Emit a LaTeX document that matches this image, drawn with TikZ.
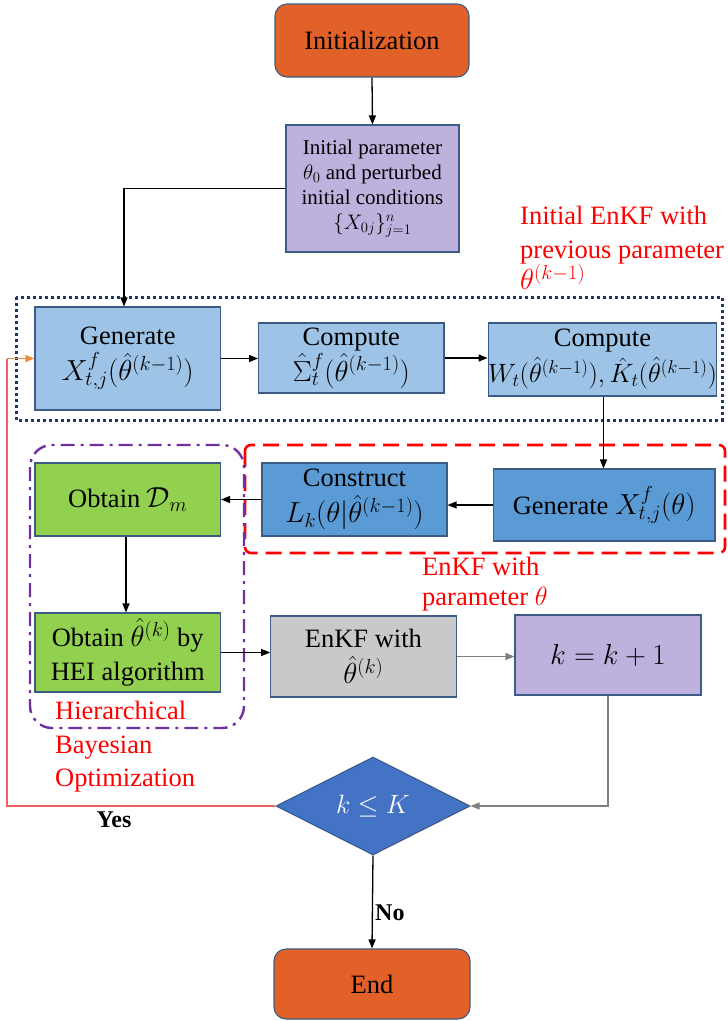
\RequirePackage{fix-cm}
\documentclass[tikz,border=0pt]{standalone}
\usepackage{fontspec}
\setmainfont{Liberation Serif}
\newfontfamily\tnr{Liberation Serif}
\usetikzlibrary{arrows.meta,shapes.geometric,calc}
\definecolor{corange}{HTML}{E26128}
\definecolor{clav}{HTML}{BFB1DD}
\definecolor{clblue}{HTML}{9DC3E6}
\definecolor{cblue}{HTML}{5B9BD5}
\definecolor{cgreen}{HTML}{92D050}
\definecolor{cgray}{HTML}{C9C9C9}
\definecolor{cdia}{HTML}{4472C4}
\definecolor{cborder}{HTML}{3B5C86}
\definecolor{cdot}{HTML}{1F3864}
\definecolor{cpurple}{HTML}{7030A0}
\definecolor{cred}{HTML}{FF0000}
\definecolor{cline}{HTML}{F06060}
\definecolor{carr}{HTML}{F28C3C}
\newcommand\fzMain{\tnr\fontsize{26.5}{34}\selectfont}
\newcommand\fzSmall{\tnr\fontsize{21}{25}\selectfont}
\newcommand\fzLab{\tnr\fontsize{24}{28}\selectfont\bfseries}
\newcommand\mbig{\fontsize{29}{34}\selectfont}
\begin{document}
\begin{tikzpicture}[x=1pt,y=-1pt,
  every node/.style={font=\fzMain, inner sep=0pt},
  boxnode/.style={draw=cborder, line width=1.1pt, align=center},
  conn/.style={line width=1.3pt, -{Triangle[length=9pt,width=7pt]}},
  redtext/.style={text=cred, align=left, anchor=west},
  yn/.style={font=\fzLab}]
\useasboundingbox (0,0) rectangle (728,1021);

% group frames
\draw[cdot, line width=3pt, dash pattern=on 3pt off 3pt] (16,297) rectangle (722,420);
\draw[cred, line width=2.6pt, dash pattern=on 16pt off 8pt, rounded corners=6pt] (245,445) rectangle (725,553);
\draw[cpurple, line width=2.4pt, dash pattern=on 14pt off 6pt on 3pt off 6pt, rounded corners=22pt] (30,445) rectangle (244,728);

% nodes
\node[boxnode, fill=corange, rounded corners=12pt, minimum width=194pt, minimum height=73pt] (init) at (372,40.5) {Initialization};
\node[boxnode, fill=clav, minimum width=173pt, minimum height=127pt, font=\fzSmall] (initp) at (372.5,188.5)
  {Initial parameter\\$\theta_0$ and perturbed\\initial conditions\\$\{X_{0j}\}_{j=1}^{n}$};
\node[boxnode, fill=clblue, minimum width=185.5pt, minimum height=103pt] (gen1) at (127.75,358.5)
  {Generate\\[2pt]{\mbig$X^{f}_{t,j}(\hat\theta^{(k-1)})$}};
\node[boxnode, fill=clblue, minimum width=185.4pt, minimum height=70pt] (comp1) at (351.3,358)
  {Compute\\[2pt]{\mbig$\hat\Sigma^{f}_{t}(\hat\theta^{(k-1)})$}};
\node[boxnode, fill=clblue, minimum width=225pt, minimum height=73pt] (comp2) at (602.5,359.5)
  {Compute\\[2pt]$W_t\bigl(\hat\theta^{(k-1)}\bigr),\hat K_t\bigl(\hat\theta^{(k-1)}\bigr)$};
\node[boxnode, fill=cgreen, minimum width=185.5pt, minimum height=73pt] (dm) at (127.75,499.5)
  {Obtain {\mbig$\mathcal{D}_m$}};
\node[boxnode, fill=cblue, minimum width=185pt, minimum height=73pt] (cons) at (354.5,499.5)
  {Construct\\[2pt]{\mbig$L_k\bigl(\theta|\hat\theta^{(k-1)}\bigr)$}};
\node[boxnode, fill=cblue, minimum width=221.5pt, minimum height=72pt] (gen2) at (604.25,505)
  {Generate {\mbig$X^{f}_{t,j}(\theta)$}};
\node[boxnode, fill=cgreen, minimum width=185.5pt, minimum height=79pt] (obt) at (127.75,652.5)
  {Obtain {\mbig$\hat\theta^{(k)}$} by\\HEI algorithm};
\node[boxnode, fill=cgray, minimum width=185.3pt, minimum height=81pt] (enkf) at (363.4,656.5)
  {EnKF with\\[2pt]{\mbig$\hat\theta^{(k)}$}};
\node[boxnode, fill=clav, minimum width=186pt, minimum height=80pt] (kk) at (608,655)
  {{\mbig$k=k+1$}};
\node[boxnode, diamond, fill=cdia, text=white, minimum width=194pt, minimum height=98pt] (dia) at (373,806)
  {$k\le K$};
\node[boxnode, fill=corange, rounded corners=12pt, minimum width=196pt, minimum height=70pt] (end) at (372,984) {End};

% labels
\node[redtext] (lab1) at (520,248) {Initial EnKF with\\previous parameter\\[-3pt]{\mbig$\theta^{(k-1)}$}};
\node[redtext] (lab2) at (422,584) {EnKF with\\[-4pt]parameter $\theta$};
\node[redtext] (lab3) at (55,747) {Hierarchical\\Bayesian\\[-1pt]Optimization};
\node[yn] (yes) at (114,820) {Yes};
\node[yn, anchor=west] (no) at (375,913) {No};

% connectors
\draw[conn] (init.south) -- (initp.north);
\draw[conn] (initp.west) -| ([xshift=-3.75pt]gen1.north);
\draw[conn] (gen1.east) -- (gen1.east -| comp1.west);
\draw[conn] (comp1.east) -- (comp1.east -| comp2.west);
\draw[conn] ([xshift=1pt]comp2.south) -- ([xshift=1pt]comp2.south |- gen2.north);
\draw[conn] (gen2.west) -- (gen2.west -| cons.east);
\draw[conn] (cons.west) -- (cons.west -| dm.east);
\draw[conn] ([xshift=-1.75pt]dm.south) -- ([xshift=-1.75pt]obt.north);
\draw[conn] (obt.east) -- (obt.east -| enkf.west);
\draw[conn, draw=gray] (enkf.east) -- (enkf.east -| kk.west);
\draw[conn, draw=gray] (kk.south) |- (dia.east);
\draw[conn] (dia.south) -- (end.north);
\coordinate (lc) at (7,358.5);
\draw[cline, line width=1.3pt] (dia.west) -| (lc);
\draw[carr, line width=1.3pt, -{Triangle[length=9pt,width=7pt]}] (lc) -- (gen1.west);
\end{tikzpicture}
\end{document}
